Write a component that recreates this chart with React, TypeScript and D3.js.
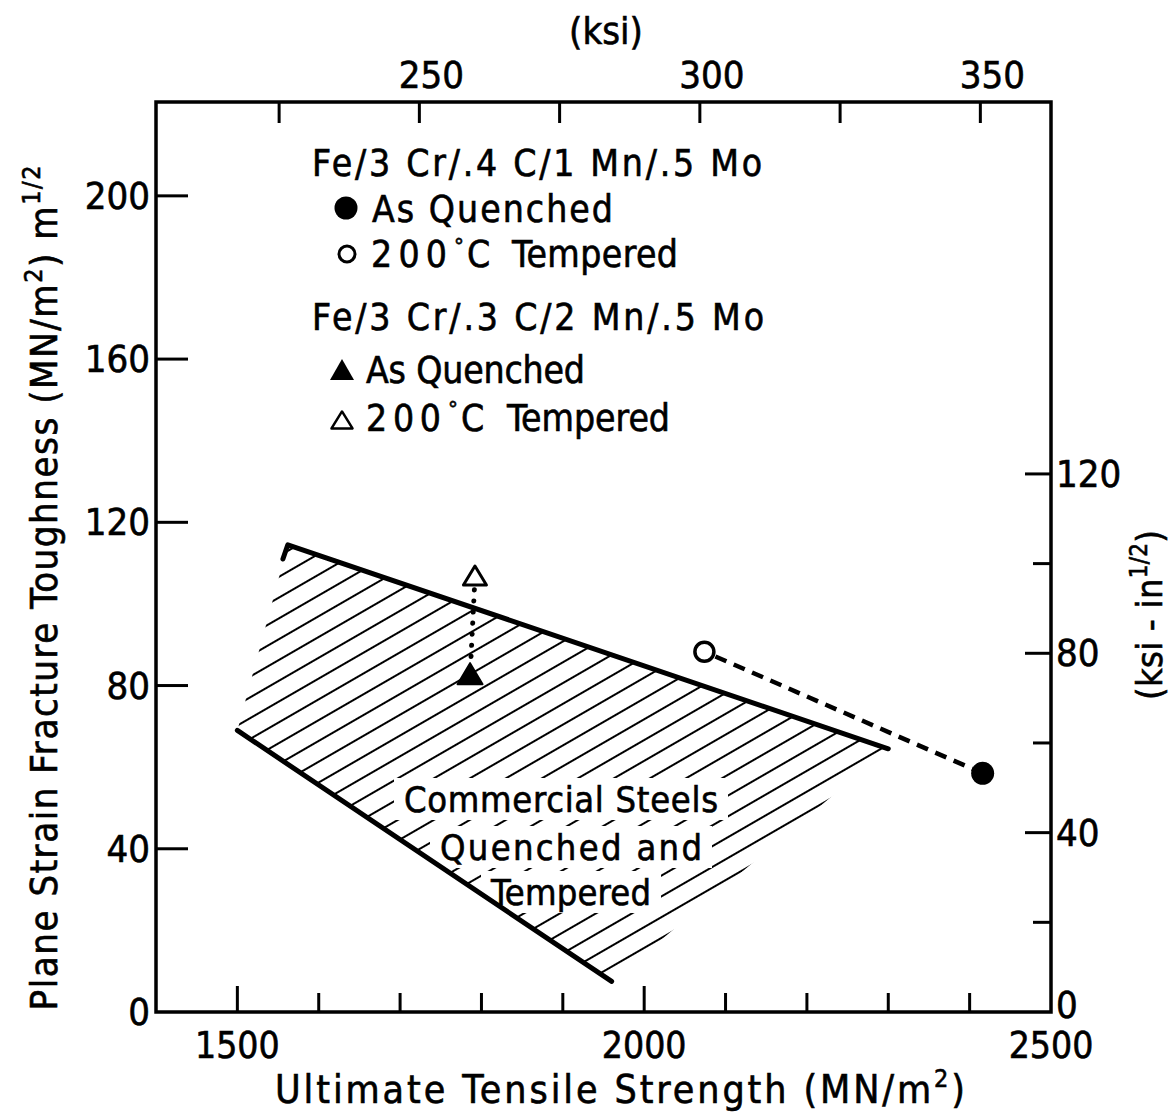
import React from "react";
import * as d3 from "d3";

const width = 1170;
const height = 1112;
const FONT = "'DejaVu Sans Condensed', 'DejaVu Sans', sans-serif";

// axis ticks
const mpaTicks = [1500, 1600, 1700, 1800, 1900, 2000, 2100, 2200, 2300, 2400];
const mpaMajor = [1500, 2000];
const mpaLabels = [1500, 2000, 2500];
const ksiTicks = [225, 250, 275, 300, 325, 350];
const ksiLabels = [250, 300, 350];
const toughTicks = [40, 80, 120, 160, 200];
const toughLabels = [0, 40, 80, 120, 160, 200];
const ksiInTicks = [20, 40, 60, 80, 100, 120];
const ksiInMajor = [40, 80, 120];
const ksiInLabels = [0, 40, 80, 120];

// commercial steels band: [UTS MN/m2, K1c MN/m3/2]
const bandUpper: [number, number][] = [[1556, 111], [1562, 114.5], [2300, 64.5]];
const bandLower: [number, number][] = [[1500, 69], [1960, 7.5]];

// Fe/3Cr/.4C/1Mn/.5Mo
const alloy1Quenched: [number, number] = [2416, 58.5];
const alloy1Tempered: [number, number] = [2074, 88.3];
// Fe/3Cr/.3C/2Mn/.5Mo
const alloy2Quenched: [number, number] = [1786, 82.3];
const alloy2Tempered: [number, number] = [1792, 106.4];

const MPA_PER_KSI = 6.894757;
const MPAM_PER_KSIIN = 1.0988;

const x = d3.scaleLinear().domain([1400, 2500]).range([156, 1051]);
const y = d3.scaleLinear().domain([0, 223]).range([1012, 102]);
const xKsi = d3.scaleLinear().domain([1400 / MPA_PER_KSI, 2500 / MPA_PER_KSI]).range([156, 1051]);
const yKsiIn = d3.scaleLinear().domain([0, 223 / MPAM_PER_KSIIN]).range([1012, 102]);

const line = d3.line<[number, number]>().x((d) => x(d[0])).y((d) => y(d[1]));

const tri = (cx: number, cy: number, w: number, h: number) =>
  `M${cx},${cy - h * 0.62}L${cx + w / 2},${cy + h * 0.38}L${cx - w / 2},${cy + h * 0.38}Z`;

// trim a segment between two points by r0 at start and r1 at end (pixels)
function trimmed(a: [number, number], b: [number, number], r0: number, r1: number) {
  const x0 = x(a[0]), y0 = y(a[1]), x1 = x(b[0]), y1 = y(b[1]);
  const len = Math.hypot(x1 - x0, y1 - y0);
  const ux = (x1 - x0) / len, uy = (y1 - y0) / len;
  return { x1: x0 + ux * r0, y1: y0 + uy * r0, x2: x1 - ux * r1, y2: y1 - uy * r1 };
}

const bold = { stroke: "#000", strokeWidth: 0.6 };

const App = () => {
  const band = [bandUpper[1], bandUpper[2], bandLower[1], bandLower[0]]
    .map((d) => `${x(d[0])},${y(d[1])}`)
    .join(" ");
  const dash = trimmed(alloy1Tempered, alloy1Quenched, 12, 10);
  const dots = trimmed(alloy2Tempered, alloy2Quenched, 12, 16);

  const bandText = [
    { t: "Commercial Steels", cx: 561, by: 812, w: 314 },
    { t: "Quenched and", cx: 571, by: 860, w: 262 },
    { t: "Tempered", cx: 571, by: 905, w: 160 },
  ];

  return (
    <svg width={width} height={height} style={{ position: "absolute", left: 0, top: 0 }}
      fontFamily={FONT} fill="#000">
      <defs>
        <pattern id="hatch" patternUnits="userSpaceOnUse" width="40" height="18"
          patternTransform="rotate(-30)">
          <line x1="0" x2="40" y1="9" y2="9" stroke="#000" strokeWidth="2.2" />
        </pattern>
      </defs>
      <rect width={width} height={height} fill="#fff" />

      {/* hatched band */}
      <polygon points={band} fill="url(#hatch)" />
      {bandText.map((d) => (
        <rect key={d.t} x={d.cx - d.w / 2 - 10} y={d.by - 34} width={d.w + 20} height={42} fill="#fff" />
      ))}
      <path d={line(bandUpper) || ""} fill="none" stroke="#000" strokeWidth="5" strokeLinecap="round" strokeLinejoin="round" />
      <path d={line(bandLower) || ""} fill="none" stroke="#000" strokeWidth="5" strokeLinecap="round" />
      {bandText.map((d) => (
        <text key={d.t} x={d.cx - d.w / 2} y={d.by} fontSize="36" textLength={d.w} {...bold}>{d.t}</text>
      ))}

      {/* frame */}
      <rect x={x(1400)} y={y(223)} width={x(2500) - x(1400)} height={y(0) - y(223)}
        fill="none" stroke="#000" strokeWidth="3.5" />

      {/* bottom axis */}
      {mpaTicks.map((v) => (
        <line key={v} x1={x(v)} x2={x(v)} y1={y(0)} y2={y(0) - (mpaMajor.includes(v) ? 26 : 19)}
          stroke="#000" strokeWidth="3" />
      ))}
      {mpaLabels.map((v) => (
        <text key={v} x={x(v)} y={1058} fontSize="37" textAnchor="middle" {...bold}>{v}</text>
      ))}
      <text x={620} y={1103} fontSize="39" textAnchor="middle" textLength={690} {...bold}>
        Ultimate Tensile Strength (MN/m<tspan dy="-16" fontSize="25">2</tspan><tspan dy="16">)</tspan>
      </text>

      {/* top axis */}
      {ksiTicks.map((v) => (
        <line key={v} x1={xKsi(v)} x2={xKsi(v)} y1={y(223)} y2={y(223) + 21} stroke="#000" strokeWidth="3" />
      ))}
      {ksiLabels.map((v) => (
        <text key={v} x={xKsi(v) + 12} y={88} fontSize="38" textAnchor="middle" {...bold}>{v}</text>
      ))}
      <text x={606} y={44} fontSize="38" textAnchor="middle" {...bold}>(ksi)</text>

      {/* left axis */}
      {toughTicks.map((v) => (
        <line key={v} x1={x(1400)} x2={x(1400) + 32} y1={y(v)} y2={y(v)} stroke="#000" strokeWidth="3" />
      ))}
      {toughLabels.map((v) => (
        <text key={v} x={150} y={y(v) + 13} fontSize="38" textAnchor="end" {...bold}>{v}</text>
      ))}
      <text transform="translate(57,588) rotate(-90)" fontSize="38" textAnchor="middle" textLength={845} {...bold}>
        Plane Strain Fracture Toughness (MN/m<tspan dy="-15" fontSize="25">2</tspan><tspan dy="15">) m</tspan>
        <tspan dy="-17" fontSize="25">1/2</tspan>
      </text>

      {/* right axis */}
      {ksiInTicks.map((v) => (
        <line key={v} x1={x(2500)} x2={x(2500) - (ksiInMajor.includes(v) ? 26 : 18)}
          y1={yKsiIn(v)} y2={yKsiIn(v)} stroke="#000" strokeWidth="3" />
      ))}
      {ksiInLabels.map((v) => (
        <text key={v} x={1056} y={yKsiIn(v) + (v === 0 ? 6 : 13)} fontSize="38" {...bold}>{v}</text>
      ))}
      <text transform="translate(1162,615) rotate(-90)" fontSize="36" textAnchor="middle" textLength={170} {...bold}>
        (ksi - in<tspan dy="-15" fontSize="24">1/2</tspan><tspan dy="15">)</tspan>
      </text>

      {/* data */}
      <line {...dash} stroke="#000" strokeWidth="4.5" strokeDasharray="12 8" />
      <line {...dots} stroke="#000" strokeWidth="5" strokeDasharray="0.1 11" strokeLinecap="round" />
      <circle cx={x(alloy1Quenched[0])} cy={y(alloy1Quenched[1])} r={11.5} fill="#000" />
      <circle cx={x(alloy1Tempered[0])} cy={y(alloy1Tempered[1])} r={9.5} fill="#fff" stroke="#000" strokeWidth="3.5" />
      <path d={tri(x(alloy2Quenched[0]), y(alloy2Quenched[1]), 25, 21)} fill="#000" stroke="#000" strokeWidth="2" strokeLinejoin="round" />
      <path d={tri(x(alloy2Tempered[0]), y(alloy2Tempered[1]), 23, 19)} fill="#fff" stroke="#000" strokeWidth="3" strokeLinejoin="round" />

      {/* legend */}
      <text x={312} y={176} fontSize="37" textLength={450} {...bold}>Fe/3 Cr/.4 C/1 Mn/.5 Mo</text>
      <circle cx={346} cy={208} r={11.5} fill="#000" />
      <text x={372} y={222} fontSize="37" textLength={241} {...bold}>As Quenched</text>
      <circle cx={347} cy={254} r={8} fill="none" stroke="#000" strokeWidth="3" />
      <text x={371} y={267} fontSize="37" textLength={76} {...bold}>200</text>
      <text x={454} y={254} fontSize="22" {...bold}>°</text>
      <text x={467} y={267} fontSize="37" {...bold}>C</text>
      <text x={512} y={267} fontSize="37" textLength={166} {...bold}>Tempered</text>

      <text x={312} y={330} fontSize="37" textLength={452} {...bold}>Fe/3 Cr/.3 C/2 Mn/.5 Mo</text>
      <path d={tri(342, 372, 24, 21)} fill="#000" />
      <text x={366} y={383} fontSize="37" textLength={219} {...bold}>As Quenched</text>
      <path d={tri(342, 422, 21, 17)} fill="none" stroke="#000" strokeWidth="2.5" strokeLinejoin="round" />
      <text x={366} y={431} fontSize="37" textLength={75} {...bold}>200</text>
      <text x={448} y={417} fontSize="22" {...bold}>°</text>
      <text x={461} y={431} fontSize="37" {...bold}>C</text>
      <text x={507} y={431} fontSize="37" textLength={163} {...bold}>Tempered</text>
    </svg>
  );
};

export default App;
